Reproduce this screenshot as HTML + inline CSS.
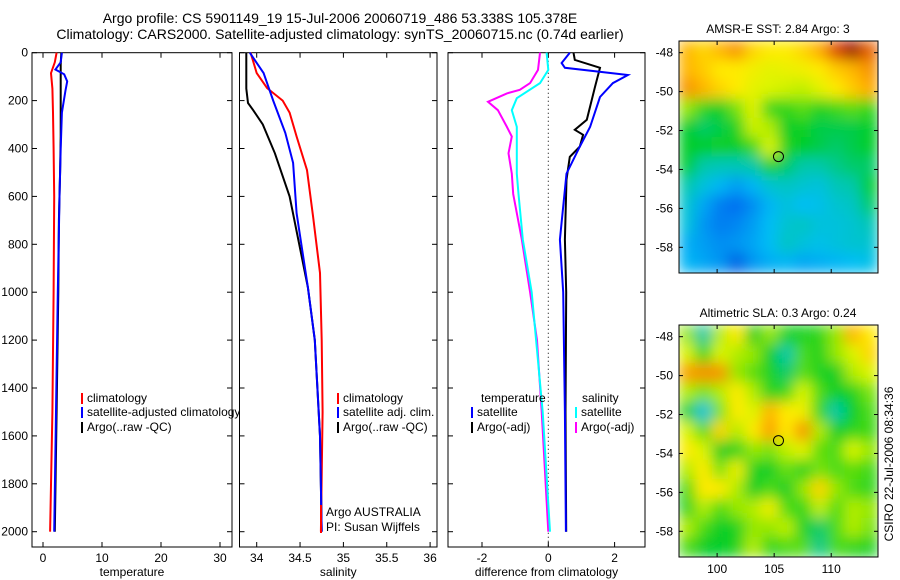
<!DOCTYPE html>
<html><head><meta charset="utf-8"><style>
body{margin:0;background:#fff;}
svg{display:block;font-family:"Liberation Sans",sans-serif;}
</style></head><body>
<svg id="c" width="900" height="580" viewBox="0 0 900 580">
<defs>
<filter id="bl" x="0" y="0" width="1" height="1"><feGaussianBlur stdDeviation="7" edgeMode="duplicate"/></filter>
<clipPath id="cm1"><rect x="679" y="41" width="199" height="232"/></clipPath>
<clipPath id="cm2"><rect x="679" y="325" width="199" height="232"/></clipPath>
</defs>
<text x="340" y="23" font-size="14" text-anchor="middle">Argo profile: CS 5901149_19 15-Jul-2006 20060719_486 53.338S 105.378E</text>
<text x="340" y="39" font-size="14" text-anchor="middle">Climatology: CARS2000. Satellite-adjusted climatology: synTS_20060715.nc (0.74d earlier)</text>
<g id="g"></g>
</svg>
<script>
// temperature panel
const tClimD=[0,40,85,150,250,400,600,1000,1500,2000];
const tClimV=[2.3,2.0,1.35,1.6,1.7,1.8,1.9,1.8,1.6,1.2];
const tSatD=[0,40,70,90,120,160,250,400,600,1000,1500,2000];
const tSatV=[3.2,3.0,2.1,3.6,4.1,3.8,3.2,3.0,2.8,2.5,2.2,1.9];
const tArgoD=[0,50,100,200,350,500,700,1000,1500,2000];
const tArgoV=[3.1,3.0,3.0,3.0,3.0,2.9,2.7,2.6,2.3,2.0];
// salinity panel
const sClimD=[0,85,148,200,250,350,490,685,920,1200,1500,2000];
const sClimV=[33.93,34.0,34.12,34.30,34.38,34.46,34.58,34.65,34.73,34.75,34.76,34.74];
const sSatD=[0,85,200,335,460,670,980,1200,1600,2000];
const sSatV=[33.92,34.08,34.19,34.33,34.42,34.46,34.59,34.67,34.73,34.75];
const sArgoD=[0,150,210,240,300,420,600,980,1200,1600,2000];
const sArgoV=[33.88,33.88,33.9,33.96,34.07,34.21,34.38,34.59,34.67,34.73,34.75];
// difference panel
const dTArgoD=[0,30,63,143,280,322,343,392,435,530,780,1000,1500,2000];
const dTArgoV=[0.76,0.8,1.56,1.41,1.16,0.8,1.05,0.95,0.65,0.55,0.5,0.54,0.52,0.54];
const dTSatD=[0,43,63,93,127,185,310,392,505,780,1000,1500,2000];
const dTSatV=[0.65,0.4,0.5,2.4,1.95,1.56,1.26,0.95,0.55,0.35,0.45,0.5,0.53];
const dSArgoD=[0,72,127,155,170,205,240,310,350,420,505,590,780,1000,1200,1500,2000];
const dSArgoV=[-0.25,-0.31,-0.55,-0.86,-1.25,-1.82,-1.52,-1.25,-1.1,-1.2,-1.1,-1.06,-0.8,-0.55,-0.34,-0.2,0];
const dSSatD=[0,72,127,190,240,310,505,590,780,1000,1500,2000];
const dSSatV=[-0.05,0,-0.25,-0.95,-1.1,-0.95,-0.95,-0.9,-0.77,-0.5,-0.17,0.05];
// ticks
const depthTicks=[0,200,400,600,800,1000,1200,1400,1600,1800,2000];
const tTicks=[0,10,20,30];
const sTicks=[34,34.5,35,35.5,36];
const dTicks=[-2,0,2];
const latTicks=[-48,-50,-52,-54,-56,-58];
const lonTicks=[100,105,110];
// map grids (colour index 0..7), rows north->south
const sstGrid=[
[5.5,5.2,5.5,5.8,5.2,5,5,5.2,5.6,6.5,7,6.2],
[5.5,5.3,5,5,4.8,4.6,4.7,4.8,5,5.3,5.5,5.8],
[5.8,5.5,5.2,5,4.6,4.5,4.4,4.3,4.6,5.0,5.3,5.6],
[4,3.3,3,3.8,4.6,3.3,3.3,3.6,3.2,3.4,3.6,3.3],
[3,2.8,2.9,3.2,4.4,4.2,3,3.1,2.9,2.9,2.9,3],
[3,3,3.1,3,3.4,4.5,3.2,3,2.9,2.8,2.9,3],
[3,2.6,2.5,2.5,2.6,3.2,2.8,2.6,2.6,2.7,2.8,2.8],
[2.6,2.2,1.9,1.6,1.9,2.3,2.4,2.3,2.2,2.5,2.6,3],
[2.3,1.7,1.2,1,1.4,1.9,2.2,2,2.1,2.3,2.4,2.8],
[2.2,1.5,1.2,1.3,1.6,2,2.3,2.4,2.2,2.2,2.3,2.5],
[1.8,1.6,1.4,1.5,1.7,2,2.4,2.2,2.1,2.2,2.3,2.3],
[1.9,1.7,1.5,0.8,1.5,1.8,1.9,1.7,1.8,1.9,2.0,2.1]];
const slaGrid=[
[4,2.6,4.2,5,3,4,3.2,3.2,3.3,4,5.5,5],
[4.5,3.3,4.5,4.2,4,3,2.6,3.5,3.2,4,4.5,5.2],
[5.7,5.8,5.8,4,3.6,3.2,2.8,3.6,3.2,3,4.2,4.5],
[4.2,3.8,4.2,5,4.2,3.2,3.4,4.5,3.5,3,3.2,3.8],
[3.2,2.2,3.8,5,4.5,5.5,5,4.8,3.3,2.6,3,3.5],
[4.5,3.5,5.2,4.2,5,5.7,5,5.8,4.2,3,3.3,3.4],
[5,4.5,3,3.2,4,3.8,4.3,4.6,3.6,3.5,4.5,4],
[4.2,5,3.8,4.8,3.2,3,3.7,3.2,3.8,3.5,3.6,3.4],
[3.4,5,5,4.2,3,3.5,3,4,5.2,4,3.5,3.3],
[3.2,4.2,3.5,4,4.2,4.8,3.5,3.3,4.3,3.5,4.2,4],
[4.2,3.5,3,3.2,4,4,4.3,3.2,2.8,3.5,4.2,3.8],
[3.5,3,3,3.2,4.2,3.3,3.5,3.6,2.7,3.5,3.3,3.2]];
const argoLat=-53.338, argoLon=105.378;

const NS='http://www.w3.org/2000/svg';
const G=document.getElementById('g');
function mk(tag,at,parent){const e=document.createElementNS(NS,tag);for(const k in at)e.setAttribute(k,at[k]);(parent||G).appendChild(e);return e;}
const yD=d=>52.7+d*0.2395;
const P=[
 {x0:32,x1:232,sx:v=>43+v*5.9,ticks:tTicks,lab:'temperature',name:'temperature-panel'},
 {x0:239.5,x1:437,sx:v=>256.7+(v-34)*86.7,ticks:sTicks,lab:'salinity',name:'salinity-panel'},
 {x0:448,x1:645,sx:v=>548.3+v*33.15,ticks:dTicks,lab:'difference from climatology',name:'difference-panel'}];
const Y0=52.7,Y1=547;
function frame(p,i){
 const r=mk('rect',{x:p.x0,y:Y0,width:p.x1-p.x0,height:Y1-Y0,fill:'#fff',stroke:'#000','stroke-width':1});
 
 
 depthTicks.forEach(d=>{const y=yD(d);
  mk('line',{x1:p.x0,y1:y,x2:p.x0+5,y2:y,stroke:'#000'});mk('line',{x1:p.x1-5,y1:y,x2:p.x1,y2:y,stroke:'#000'});
  if(i===0){const t=mk('text',{x:28,y:y+4,'font-size':12,'text-anchor':'end'});t.textContent=d;
   }});
 p.ticks.forEach(v=>{const x=p.sx(v);
  mk('line',{x1:x,y1:Y0,x2:x,y2:Y0+5,stroke:'#000'});mk('line',{x1:x,y1:Y1-5,x2:x,y2:Y1,stroke:'#000'});
  const t=mk('text',{x:x,y:562,'font-size':12,'text-anchor':'middle'});t.textContent=v;
  });
 const l=mk('text',{x:(p.x0+p.x1)/2,y:576,'font-size':12,'text-anchor':'middle'});l.textContent=p.lab;
 
}
function line(p,D,V,col,name){
 const pts=D.map((d,k)=>p.sx(V[k]).toFixed(1)+','+yD(d).toFixed(1)).join(' ');
 const e=mk('polyline',{points:pts,fill:'none',stroke:col,'stroke-width':2});
 
 
}
function txt(x,y,s,name){const t=mk('text',{x:x,y:y,'font-size':12});t.textContent=s;
 }
function leg(x,y,col,s,name){mk('line',{x1:x,y1:y-9,x2:x,y2:y+2,stroke:col,'stroke-width':2});txt(x+5,y,s,name);}

frame(P[0],0);
line(P[0],tClimD,tClimV,'#f00','temp-climatology-line');
line(P[0],tArgoD,tArgoV,'#000','temp-argo-line');
line(P[0],tSatD,tSatV,'#00f','temp-satellite-line');
leg(82,402,'#f00','climatology','legend-climatology');
leg(82,416,'#00f','satellite-adjusted climatology','legend-satellite');
leg(82,431,'#000','Argo(..raw -QC)','legend-argo');

frame(P[1],1);
line(P[1],sClimD,sClimV,'#f00','sal-climatology-line');
line(P[1],sArgoD,sArgoV,'#000','sal-argo-line');
line(P[1],sSatD,sSatV,'#00f','sal-satellite-line');
leg(338,402,'#f00','climatology','legend-climatology-sal');
leg(338,416,'#00f','satellite adj. clim.','legend-satellite-sal');
leg(338,431,'#000','Argo(..raw -QC)','legend-argo-sal');
mk('line',{x1:321,y1:505,x2:321,y2:533,stroke:'#f00','stroke-width':2});
txt(326,516,'Argo AUSTRALIA','institution-label');
txt(326,531,'PI: Susan Wijffels','pi-label');

frame(P[2],2);
mk('line',{x1:548.3,y1:Y0,x2:548.3,y2:Y1,stroke:'#000','stroke-dasharray':'1,3'});
line(P[2],dTArgoD,dTArgoV,'#000','temp-diff-argo-line');
line(P[2],dTSatD,dTSatV,'#00f','temp-diff-satellite-line');
line(P[2],dSArgoD,dSArgoV,'#f0f','sal-diff-argo-line');
line(P[2],dSSatD,dSSatV,'#0ff','sal-diff-satellite-line');
txt(481,402,'temperature','legend-temperature-head');
leg(472,416,'#00f','satellite','legend-temp-satellite');
leg(472,431,'#000','Argo(-adj)','legend-temp-argo');
txt(582,402,'salinity','legend-salinity-head');
leg(576,416,'#0ff','satellite','legend-sal-satellite');
leg(576,431,'#f0f','Argo(-adj)','legend-sal-argo');

// maps
const stops=[[0,[0,40,180]],[1,[0,110,240]],[2,[0,190,245]],[2.6,[0,200,170]],[3,[0,205,40]],[4,[150,232,0]],[4.5,[220,245,0]],[5,[255,235,0]],[5.6,[255,170,0]],[6.5,[220,60,0]],[7,[150,0,0]]];
function col(v){for(let i=1;i<stops.length;i++){if(v<=stops[i][0]){const a=stops[i-1],b=stops[i],f=(v-a[0])/(b[0]-a[0]);
 return 'rgb('+a[1].map((c,k)=>Math.round(c+(b[1][k]-c)*f)).join(',')+')';}}return 'rgb(150,0,0)';}
const lon0=96.66,lon1=114.1,lat0=-47.4,lat1=-59.32;
function map(top,grid,title,name,clip,xlabels){
 const h=232,w=199,L=679;
 const sxm=lo=>L+(lo-lon0)/(lon1-lon0)*w, sym=la=>top+(la-lat0)/(lat1-lat0)*h;
 const g=mk('g',{'clip-path':'url(#'+clip+')'});
 
 
 const gi=mk('g',{filter:'url(#bl)'},g);
 const R=grid.length,C=grid[0].length;
 grid.forEach((row,r)=>row.forEach((v,c)=>{
  const cell=mk('rect',{x:L+c*w/C-0.5,y:top+r*h/R-0.5,width:w/C+1,height:h/R+1,fill:col(v)},gi);
  
  }));
 const fr=mk('rect',{x:L,y:top,width:w,height:h,fill:'none',stroke:'#000'});
 
 latTicks.forEach(la=>{const y=sym(la);mk('line',{x1:L,y1:y,x2:L+4,y2:y,stroke:'#000'});mk('line',{x1:L+w-4,y1:y,x2:L+w,y2:y,stroke:'#000'});
  const t=mk('text',{x:673,y:y+4,'font-size':12,'text-anchor':'end'});t.textContent=la;
  });
 lonTicks.forEach(lo=>{const x=sxm(lo);mk('line',{x1:x,y1:top,x2:x,y2:top+4,stroke:'#000'});mk('line',{x1:x,y1:top+h-4,x2:x,y2:top+h,stroke:'#000'});
  if(xlabels){const t=mk('text',{x:x,y:top+h+16,'font-size':12,'text-anchor':'middle'});t.textContent=lo;
   }});
 const c=mk('circle',{cx:sxm(argoLon),cy:sym(argoLat),r:5,fill:'none',stroke:'#000'});
 
 const t=mk('text',{x:778,y:top-8,'font-size':12,'text-anchor':'middle'});t.textContent=title;
 
}
map(41,sstGrid,'AMSR-E SST: 2.84 Argo: 3','sst-map','cm1',false);
map(325,slaGrid,'Altimetric SLA: 0.3 Argo: 0.24','sla-map','cm2',true);
const ct=mk('text',{x:0,y:0,'font-size':12,'text-anchor':'middle',transform:'translate(893,464) rotate(-90)'});
ct.textContent='CSIRO 22-Jul-2006 08:34:36';


</script>
</body></html>
